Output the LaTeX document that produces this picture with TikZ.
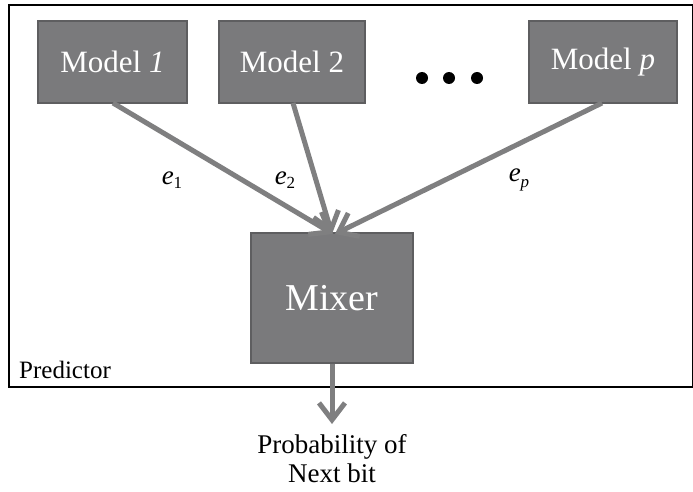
\documentclass[tikz,border=0pt]{standalone}
\usepackage{fontspec}
\setmainfont{Liberation Serif}
\usetikzlibrary{arrows.meta}
\definecolor{boxfill}{HTML}{7A7A7C}
\definecolor{boxline}{HTML}{5E5E60}
\definecolor{flow}{HTML}{7F7F80}
\begin{document}
\begin{tikzpicture}[x=1pt,y=-1pt,
  model/.style={draw=boxline,line width=1.5pt,fill=boxfill,text=white,
    font=\fontsize{31}{33}\selectfont,inner sep=0pt},
  flowarrow/.style={draw=flow,line width=5pt,
    -{Straight Barb[length=17pt,width=26pt,line width=5pt]}},
  lbl/.style={font=\fontsize{27}{29}\selectfont},
  dot/.style={fill=black,circle,inner sep=0pt,minimum size=12pt}]
\useasboundingbox (0,0) rectangle (693,492);
% outer frame
\node[draw=black,line width=2pt,minimum width=684pt,minimum height=382pt,inner sep=0pt]
  (frame) at (351,196) {};
\node[lbl,font=\fontsize{25}{27}\selectfont,anchor=west,inner sep=0pt] (pred) at (19,370) {Predictor};
% models
\node[model,minimum width=149pt,minimum height=82pt] (m1) at (112.5,62) {Model \textit{1}};
\node[model,minimum width=146pt,minimum height=82pt] (m2) at (292,62) {Model 2};
\node[model,minimum width=148pt,minimum height=82pt] (mp) at (603,62) {Model \textit{p}};
\node[dot] (d1) at (422,78) {};
\node[dot] (d2) at (449,78) {};
\node[dot] (d3) at (477,78) {};
% mixer
\node[model,font=\fontsize{38}{40}\selectfont,minimum width=162pt,minimum height=130pt] (mix) at (332,298) {Mixer};
\coordinate (t1) at (333,234);
\coordinate (t2) at (332,234);
\coordinate (tp) at (335,234);
\draw[flowarrow] (113,103) coordinate (s1) -- (t1);
\draw[flowarrow] (293,103) coordinate (s2) -- (t2);
\draw[flowarrow] (602,103) coordinate (sp) -- (tp);
\coordinate (out) at (332,424);
\draw[flowarrow] (mix.south) -- (out);
% edge labels
\node[lbl] (e1) at (172,180) {\textit{e}\raisebox{-0.35ex}{\fontsize{17}{17}\selectfont 1}};
\node[lbl] (e2) at (285,180) {\textit{e}\raisebox{-0.35ex}{\fontsize{17}{17}\selectfont 2}};
\node[lbl] (ep) at (519,180) {\textit{e}\raisebox{-0.45ex}{\fontsize{17}{17}\selectfont\textit{p}}};
% output
\node[lbl,align=center,anchor=north] (prob) at (332,431) {Probability of\\Next bit};
\end{tikzpicture}
\end{document}
